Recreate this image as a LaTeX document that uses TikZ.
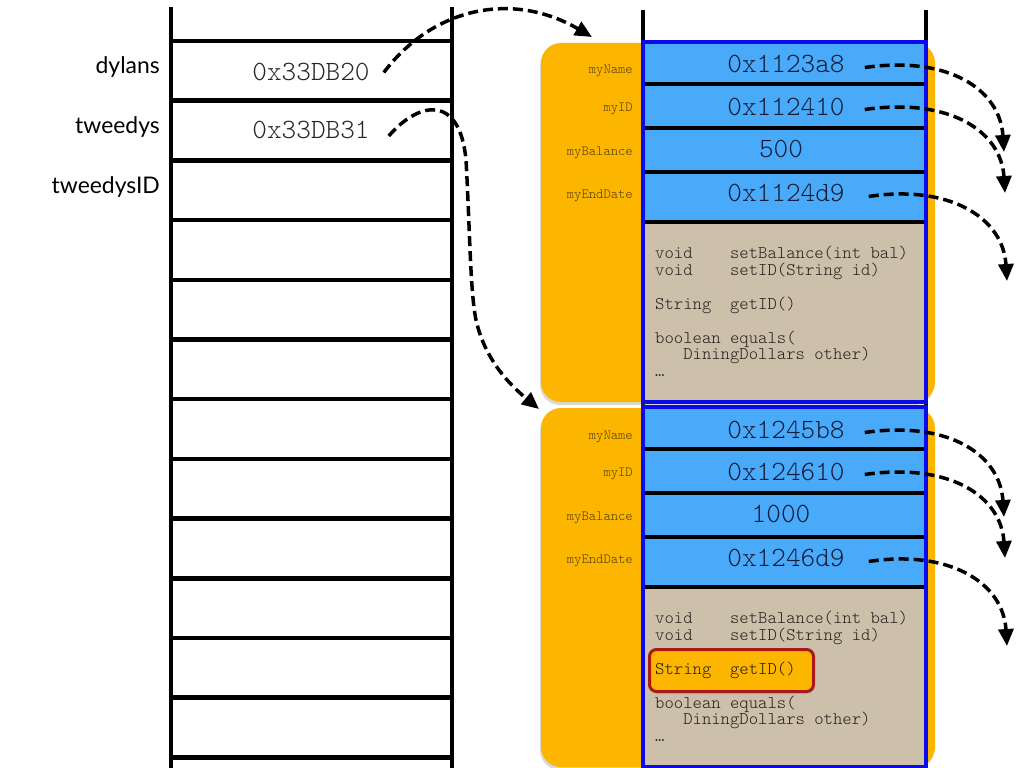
\documentclass[tikz,border=0pt]{standalone}
\usepackage{fontspec}
\usetikzlibrary{arrows.meta,shadows}
\newfontfamily\labelfont{Lato}
\newfontfamily\codefont{lmmonolt10-regular.otf}
\definecolor{orng}{RGB}{252,182,0}
\definecolor{fieldblue}{RGB}{72,170,248}
\definecolor{bordblue}{RGB}{10,10,235}
\definecolor{tanc}{RGB}{205,192,170}
\definecolor{valtext}{RGB}{20,30,60}
\definecolor{lbltext}{RGB}{85,62,20}
\definecolor{methtext}{RGB}{35,32,28}
\definecolor{hlred}{RGB}{170,25,25}
\begin{document}
\begin{tikzpicture}[x=1bp,y=-1bp,
  stackline/.style={line width=4.5bp},
  colline/.style={line width=3.5bp},
  sepline/.style={line width=3.5bp},
  varname/.style={font=\labelfont\fontsize{23}{26}\selectfont, anchor=base east, inner sep=0pt},
  addr/.style={font=\codefont\fontsize{28}{30}\selectfont, text=black!85, anchor=base, inner sep=0pt},
  fval/.style={font=\codefont\fontsize{28}{30}\selectfont, text=valtext, anchor=base, inner sep=0pt},
  fname/.style={font=\codefont\fontsize{14}{16}\selectfont, text=lbltext, anchor=base east, inner sep=0pt},
  meth/.style={font=\codefont\fontsize{17.9}{20}\selectfont, text=methtext, anchor=base west, inner sep=0pt},
  ptr/.style={line width=3.5bp, dash pattern=on 10bp off 5bp, -{Triangle[length=17bp,width=15bp]}},
  objbox/.style={rectangle, fill=orng, rounded corners=20bp, minimum width=394bp, minimum height=359bp,
    inner sep=0pt, outer sep=0pt, drop shadow={shadow xshift=-1bp, shadow yshift=-3bp, opacity=0.3}},
  hlbox/.style={rectangle, fill=orng, draw=hlred, line width=3bp, rounded corners=7bp,
    minimum width=164bp, minimum height=42bp, inner sep=0pt,
    drop shadow={shadow xshift=1bp, shadow yshift=-2bp, opacity=0.4}},
]
\useasboundingbox (0,0) rectangle (1024,768);
% stack
\draw[colline] (171,7) -- (171,768);
\draw[colline] (452,7) -- (452,768);
\foreach \i in {0,...,12} \draw[stackline] (169.5,{41+59.7*\i}) -- (453.5,{41+59.7*\i});
% object column
\draw[colline] (643,10) -- (643,768);
\draw[colline] (926,10) -- (926,768);
\foreach \k/\oy in {1/0,2/365}{
  \node[objbox, anchor=north west] (obj\k) at (541,{43+\oy}) {};
  \fill[fieldblue] (643,{42+\oy}) rectangle (926,{222+\oy});
  \fill[tanc] (643,{222+\oy}) rectangle (926,{402+\oy});
  \foreach \s in {84,128,172} \draw[sepline] (643,{\s+\oy}) -- (926,{\s+\oy});
  \draw[line width=4.5bp] (643,{222+\oy}) -- (926,{222+\oy});
  \draw[bordblue, line width=4bp] (643,{42+\oy}) rectangle (926,{402+\oy});
}
\node[hlbox, anchor=north west] (hl) at (648,648) {};
% stack texts
\node[varname] (n1) at (160,74) {dylans};
\node[varname] (n2) at (160,133) {tweedys};
\node[varname] (n3) at (160,193) {tweedysID};
\node[addr] (v1) at (311,81) {0x33DB20};
\node[addr] (v2) at (311,138.5) {0x33DB31};
% object texts and pointers
\foreach \k/\oy/\va/\vb/\vc/\vd in {1/0/0x1123a8/0x112410/500/0x1124d9, 2/365/0x1245b8/0x124610/1000/0x1246d9}{
  \node[fname] (la\k) at (633,{74+\oy}) {myName};
  \node[fname] (lb\k) at (633,{111+\oy}) {myID};
  \node[fname] (lc\k) at (633,{155+\oy}) {myBalance};
  \node[fname] (ld\k) at (633,{198+\oy}) {myEndDate};
  \node[fval] (va\k) at (786,{73+\oy}) {\va};
  \node[fval] (vb\k) at (786,{115+\oy}) {\vb};
  \node[fval] (vc\k) at (781,{157+\oy}) {\vc};
  \node[fval] (vd\k) at (786,{201+\oy}) {\vd};
  \node[meth] (ma\k) at (655,{258+\oy}) {void~~~~setBalance(int~bal)};
  \node[meth] (mb\k) at (655,{275+\oy}) {void~~~~setID(String~id)};
  \node[meth] (mc\k) at (655,{309+\oy}) {String~~getID()};
  \node[meth] (md\k) at (655,{343+\oy}) {boolean~equals(};
  \node[meth] (me\k) at (655,{359.5+\oy}) {~~~DiningDollars~other)};
  \node[meth] (mf\k) at (655,{376.5+\oy}) {…};
  \coordinate (ra\k) at (1004,{152+\oy});
  \coordinate (rb\k) at (1005,{193+\oy});
  \coordinate (rd\k) at (1007,{281+\oy});
  \draw[ptr] ([shift={(20,3)}]va\k.east) .. controls +(85,-12) and +(-4,-62) .. (ra\k);
  \draw[ptr] ([shift={(20,3)}]vb\k.east) .. controls +(85,-12) and +(-4,-62) .. (rb\k);
  \draw[ptr] ([shift={(24,4)}]vd\k.east) .. controls +(80,-12) and +(-4,-64) .. (rd\k);
}
\coordinate (t1) at (592,37);
\coordinate (t2) at (539,409);
\draw[ptr] ([xshift=14bp]v1.east) .. controls (435,5) and (515,-8) .. (t1);
\draw[ptr] ([shift={(19,6)}]v2.east) .. controls (420,100) and (460,95) .. (466,160)
  .. controls (470,230) and (470,290) .. (476,320) .. controls (485,360) and (510,385) .. (t2);
\end{tikzpicture}
\end{document}
